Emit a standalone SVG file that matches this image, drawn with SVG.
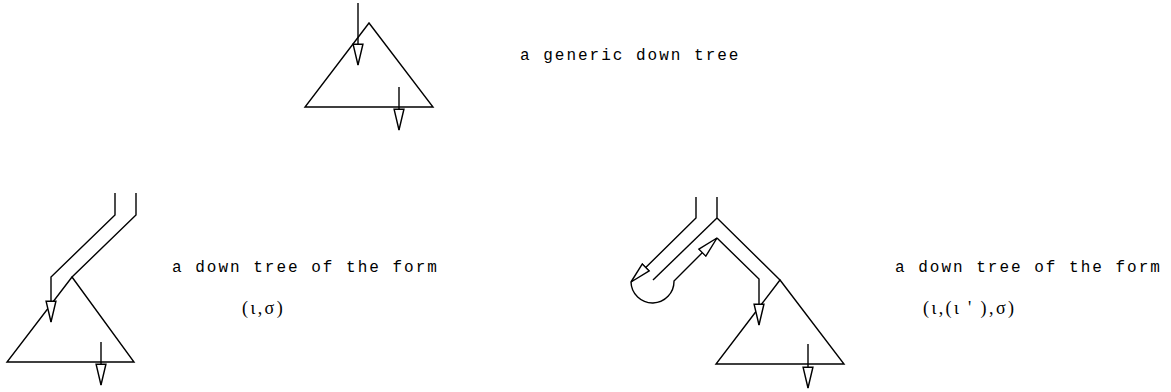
<svg xmlns="http://www.w3.org/2000/svg" width="1171" height="392" viewBox="0 0 1171 392">
<style>
.ln{fill:none;stroke:#000;stroke-width:1.4;stroke-linejoin:miter}
.tri{fill:none;stroke:#000;stroke-width:1.4}
.arr{marker-end:url(#oa)}
.mono{font-family:"Liberation Mono",monospace;font-size:16px;letter-spacing:2px;fill:#000}
.ser{font-family:"Liberation Serif","DejaVu Serif",serif;font-size:18px;letter-spacing:2.4px;fill:#000}
</style>
<defs>
<marker id="oa" markerUnits="userSpaceOnUse" markerWidth="24" markerHeight="14" viewBox="-1 -6 22 12" refX="19" refY="0" orient="auto">
<path d="M0,-4.5 L19,0 L0,4.5 Z" fill="#fff" stroke="#000" stroke-width="1.3"/>
</marker>
</defs>
<rect width="1171" height="392" fill="#fff"/>
<g id="tree-generic">
<polygon class="tri" points="369,23 305,107 433,107"/>
</g>
<g id="tree-form1">
<polygon class="tri" points="72,277 7,362 134,362"/>
</g>
<g id="tree-form2">
<polygon class="tri" points="780,280 716,364 844,364"/>
</g>
<g id="connectors">
<path class="ln arr" d="M358,3 L358,65"/>
<path class="ln arr" d="M399,87 L399,130"/>
<path class="ln arr" d="M115,193 L115,215 L51,277 L51,322"/>
<path class="ln" d="M136,193 L136,215 L72,277"/>
<path class="ln arr" d="M101,342 L101,385"/>
<path class="ln arr" d="M696,197 L696,218 L631,282"/>
<path class="ln" d="M717,197 L717,218 L780,280"/>
<path class="ln" d="M653,280 L717,218"/>
<path class="ln arr" d="M631,282 A21.5,21.5 0 0 0 674,281 L717,238"/>
<path class="ln arr" d="M717,238 L759,279 L759,325"/>
<path class="ln arr" d="M808,344 L808,388"/>
</g>
<g id="labels">
<text class="mono" x="520" y="60">a generic down tree</text>
<text class="mono" x="172" y="272">a down tree of the form</text>
<text class="mono" x="895" y="272">a down tree of the form</text>
<text class="ser" x="242" y="314">(ι,σ)</text>
<text class="ser" x="923" y="314">(ι,(ι ' ),σ)</text>
</g>
</svg>
